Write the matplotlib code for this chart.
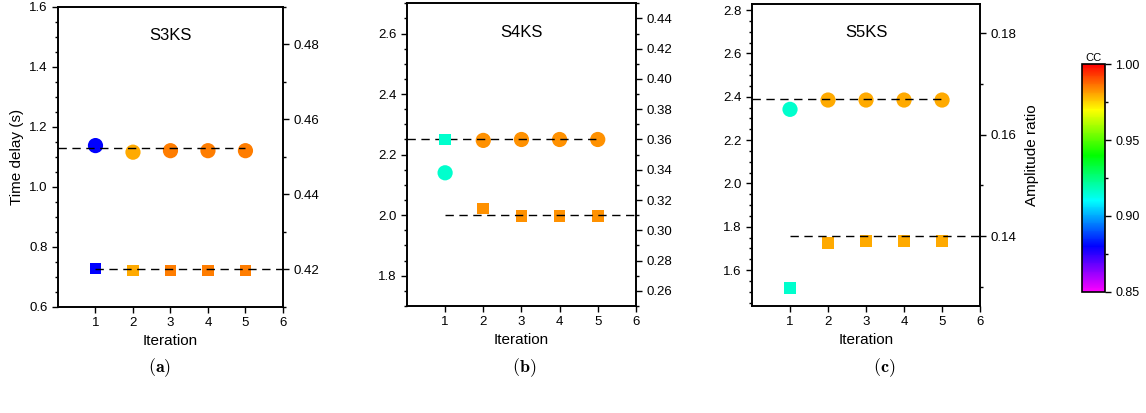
import matplotlib
matplotlib.use('Agg')
import matplotlib.pyplot as plt
from matplotlib.colors import LinearSegmentedColormap, Normalize
from matplotlib.cm import ScalarMappable
from matplotlib.ticker import MultipleLocator

plt.rcParams['font.family'] = ['Liberation Sans', 'DejaVu Sans']
plt.rcParams['mathtext.fontset'] = 'cm'

# ---- data ----
iterations = [1, 2, 3, 4, 5]
phases = ['S3KS', 'S4KS', 'S5KS']
panel_tags = ['(a)', '(b)', '(c)']

# time delay (circles, left axis) and its cross-correlation coefficient
delay = [[1.138, 1.116, 1.121, 1.121, 1.121],
         [2.140, 2.247, 2.250, 2.250, 2.250],
         [2.342, 2.385, 2.385, 2.385, 2.385]]
delay_cc = [[0.880, 0.980, 0.985, 0.985, 0.985],
            [0.916, 0.983, 0.983, 0.983, 0.983],
            [0.916, 0.980, 0.980, 0.980, 0.980]]
delay_ref = [1.13, 2.25, 2.391]

# amplitude ratio (squares, right axis) and its cross-correlation coefficient
amp = [[0.4203, 0.4197, 0.4197, 0.4197, 0.4197],
       [0.3600, 0.3145, 0.3093, 0.3093, 0.3093],
       [0.1297, 0.1386, 0.1390, 0.1390, 0.1390]]
amp_cc = [[0.880, 0.980, 0.985, 0.985, 0.985],
          [0.916, 0.983, 0.983, 0.983, 0.983],
          [0.916, 0.980, 0.980, 0.980, 0.980]]
amp_ref = [0.42, 0.31, 0.14]

delay_lims = [(0.6, 1.6), (1.7, 2.7), (1.434, 2.828)]
amp_lims = [(0.41, 0.49), (0.25, 0.45), (0.1262, 0.1858)]

# ---- colour scale (GMT-like rainbow) ----
cmap = LinearSegmentedColormap.from_list(
    'rainbow_gmt', ['#ff00ff', '#0000ff', '#00ffff', '#00ff00', '#ffff00', '#ff0000'])
norm = Normalize(vmin=0.85, vmax=1.0)

fig = plt.figure(figsize=(11.46, 4.13), dpi=100)

ax_pos = [[0.0506, 0.2567, 0.1963, 0.7264],
          [0.3551, 0.2591, 0.1998, 0.7330],
          [0.6562, 0.2591, 0.1990, 0.7310]]
tag_x = [0.1396, 0.4572, 0.7714]

for k in range(3):
    ax = fig.add_axes(ax_pos[k])
    ax2 = ax.twinx()

    ax.scatter(iterations, delay[k], c=delay_cc[k], cmap=cmap, norm=norm,
               marker='o', s=120, edgecolors='none', zorder=3)
    ax.plot([0, 5], [delay_ref[k]] * 2, color='k', lw=1.0, dashes=(6, 4), zorder=4)

    ax2.scatter(iterations, amp[k], c=amp_cc[k], cmap=cmap, norm=norm,
                marker='s', s=70, edgecolors='none', zorder=3)
    ax2.plot([1, 6], [amp_ref[k]] * 2, color='k', lw=1.0, dashes=(6, 4), zorder=4)

    ax.set_xlim(0, 6)
    ax.set_xticks([1, 2, 3, 4, 5, 6])
    ax.set_ylim(*delay_lims[k])
    ax2.set_ylim(*amp_lims[k])

    ax.yaxis.set_major_locator(MultipleLocator(0.2))
    ax.yaxis.set_minor_locator(MultipleLocator(0.05))
    ax2.yaxis.set_major_locator(MultipleLocator(0.02))
    ax2.yaxis.set_minor_locator(MultipleLocator(0.01))

    for a in (ax, ax2):
        a.tick_params(which='major', length=4, width=1, labelsize=9.5, direction='out')
        a.tick_params(which='minor', length=2.5, width=1, direction='out')
        for sp in a.spines.values():
            sp.set_linewidth(1.2)
    ax.yaxis.set_major_formatter(matplotlib.ticker.FormatStrFormatter('%.1f'))
    ax2.yaxis.set_major_formatter(matplotlib.ticker.FormatStrFormatter('%.2f'))

    ax.text(0.5, 0.905, phases[k], transform=ax.transAxes, ha='center', va='center',
            fontsize=12)
    ax.set_xlabel('Iteration', fontsize=11, labelpad=3)

    if k == 0:
        ax.set_ylabel('Time delay (s)', fontsize=11)
    if k == 2:
        ax2.set_ylabel('Amplitude ratio', fontsize=11, labelpad=6)

    fig.text(tag_x[k], 0.111, r'$\mathbf{' + panel_tags[k] + '}$', ha='center',
             va='center', fontsize=13)

# colorbar
cax = fig.add_axes([0.9442, 0.2930, 0.0201, 0.5520])
cb = fig.colorbar(ScalarMappable(norm=norm, cmap=cmap), cax=cax)
cb.set_ticks([0.85, 0.90, 0.95, 1.00])
cb.ax.yaxis.set_minor_locator(MultipleLocator(0.025))
cb.ax.yaxis.set_major_formatter(matplotlib.ticker.FormatStrFormatter('%.2f'))
cb.ax.tick_params(which='major', length=4, width=1, labelsize=9)
cb.ax.tick_params(which='minor', length=2.5, width=1)
cb.outline.set_linewidth(1.2)
cax.set_title('CC', fontsize=8, pad=2)

plt.savefig('out.png', dpi=100)
